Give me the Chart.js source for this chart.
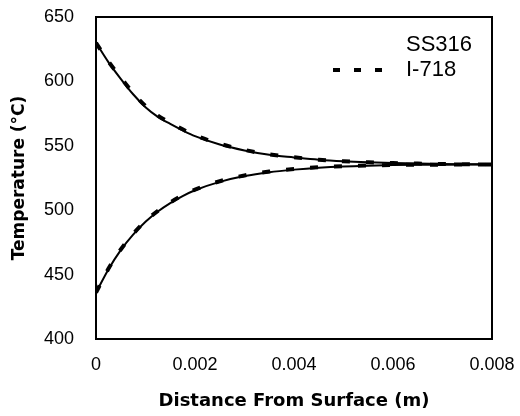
<!DOCTYPE html>
<html>
<head>
<meta charset="utf-8">
<script src="https://cdn.jsdelivr.net/npm/chart.js@4/dist/chart.umd.min.js"></script>
<style>
  html, body { margin: 0; padding: 0; background: #fff; }
  #wrap { width: 520px; height: 416px; }
</style>
</head>
<body>
<div id="wrap"><canvas id="temp-chart"></canvas></div>
<script>
// distance from surface (m)
const distances = [0, 0.00025, 0.0005, 0.00075, 0.001, 0.00125, 0.0015, 0.00175, 0.002, 0.0025, 0.003, 0.0035, 0.004, 0.0045, 0.005, 0.0055, 0.006, 0.0065, 0.007, 0.0075, 0.008];

// SS316, heated side and cooled side
const ss316Upper = [630, 615, 602, 590, 580, 572.5, 567, 562, 557.5, 551, 546.4, 543, 541, 539.2, 538, 537.2, 536.6, 536.2, 535.9, 535.7, 535.5];
const ss316Lower = [436, 454, 469, 481, 491, 499, 505.5, 511, 515.5, 522, 526.5, 529.5, 531.5, 533, 534, 534.6, 535, 535.2, 535.3, 535.4, 535.5];

// I-718, heated side and cooled side
const i718Upper = [630, 615.5, 603, 591, 581, 573.5, 567.8, 562.8, 558.2, 551.6, 546.8, 543.3, 541.1, 539.2, 538, 537.2, 536.6, 536.2, 535.9, 535.7, 535.5];
const i718Lower = [436, 454.5, 469.5, 481.5, 491.5, 499.5, 506, 511.5, 516, 522.5, 527, 530, 532, 533.3, 534.2, 534.8, 535.1, 535.3, 535.4, 535.5, 535.5];

const xTicks = [0, 0.002, 0.004, 0.006, 0.008];
const yTicks = [400, 450, 500, 550, 600, 650];

function toPoints(values) {
    return distances.map((d, i) => ({ x: d, y: values[i] }));
}

function solidSet(values) {
    return {
        data: toPoints(values),
        borderColor: '#000',
        borderWidth: 2,
        pointRadius: 0,
        tension: 0.4,
        cubicInterpolationMode: 'monotone',
        fill: false
    };
}

function dashedSet(values) {
    return {
        data: toPoints(values),
        borderColor: '#000',
        borderWidth: 4,
        borderDash: [8, 16],
        pointRadius: 0,
        tension: 0.4,
        cubicInterpolationMode: 'monotone',
        fill: false
    };
}

// box around the plot and the legend inside it
const boxAndLegend = {
    id: 'boxAndLegend',
    afterDraw(chart) {
        const ctx = chart.ctx;
        const a = chart.chartArea;
        ctx.save();
        ctx.strokeStyle = '#000';
        ctx.lineWidth = 2;
        ctx.strokeRect(a.left, a.top, a.right - a.left, a.bottom - a.top);

        ctx.fillStyle = '#000';
        ctx.font = '22px "Liberation Sans", Arial, sans-serif';
        ctx.textBaseline = 'middle';
        ctx.textAlign = 'left';
        ctx.fillText('SS316', a.right - 86, a.top + 28);
        ctx.fillText('I-718', a.right - 86, a.top + 53);

        ctx.lineWidth = 4;
        ctx.setLineDash([7, 14]);
        ctx.beginPath();
        ctx.moveTo(a.right - 159, a.top + 53);
        ctx.lineTo(a.right - 110, a.top + 53);
        ctx.stroke();
        ctx.restore();
    }
};

new Chart(document.getElementById('temp-chart'), {
    type: 'line',
    data: {
        datasets: [
            solidSet(ss316Upper),
            solidSet(ss316Lower),
            dashedSet(i718Upper),
            dashedSet(i718Lower)
        ]
    },
    options: {
        responsive: true,
        maintainAspectRatio: false,
        animation: false,
        layout: { padding: { top: 17, right: 28, left: 0, bottom: 0 } },
        plugins: {
            legend: { display: false },
            tooltip: { enabled: false }
        },
        scales: {
            x: {
                type: 'linear',
                min: 0,
                max: 0.008,
                grid: { display: false },
                border: { display: false },
                afterBuildTicks: scale => { scale.ticks = xTicks.map(v => ({ value: v })); },
                afterFit: scale => {
                    scale.height = 77;
                    scale.paddingLeft = 0;
                    scale.paddingRight = 0;
                },
                ticks: {
                    color: '#000',
                    padding: 7,
                    font: { family: '"Liberation Sans", Arial, sans-serif', size: 18 },
                    callback: v => v === 0 ? '0' : v.toFixed(3)
                },
                title: {
                    display: true,
                    text: 'Distance From Surface (m)',
                    color: '#000',
                    padding: { top: 8 },
                    font: { family: '"DejaVu Sans", sans-serif', size: 18, weight: 'bold' }
                }
            },
            y: {
                min: 400,
                max: 650,
                grid: { display: false },
                border: { display: false },
                afterBuildTicks: scale => { scale.ticks = yTicks.map(v => ({ value: v })); },
                afterFit: scale => {
                    scale.width = 96;
                    scale.paddingTop = 0;
                    scale.paddingBottom = 0;
                },
                ticks: {
                    color: '#000',
                    padding: 14,
                    font: { family: '"Liberation Sans", Arial, sans-serif', size: 18 }
                },
                title: {
                    display: true,
                    text: 'Temperature (°C)',
                    color: '#000',
                    padding: { top: 9, bottom: 4 },
                    font: { family: '"DejaVu Sans", sans-serif', size: 17, weight: 'bold' }
                }
            }
        }
    },
    plugins: [boxAndLegend]
});
</script>
</body>
</html>
